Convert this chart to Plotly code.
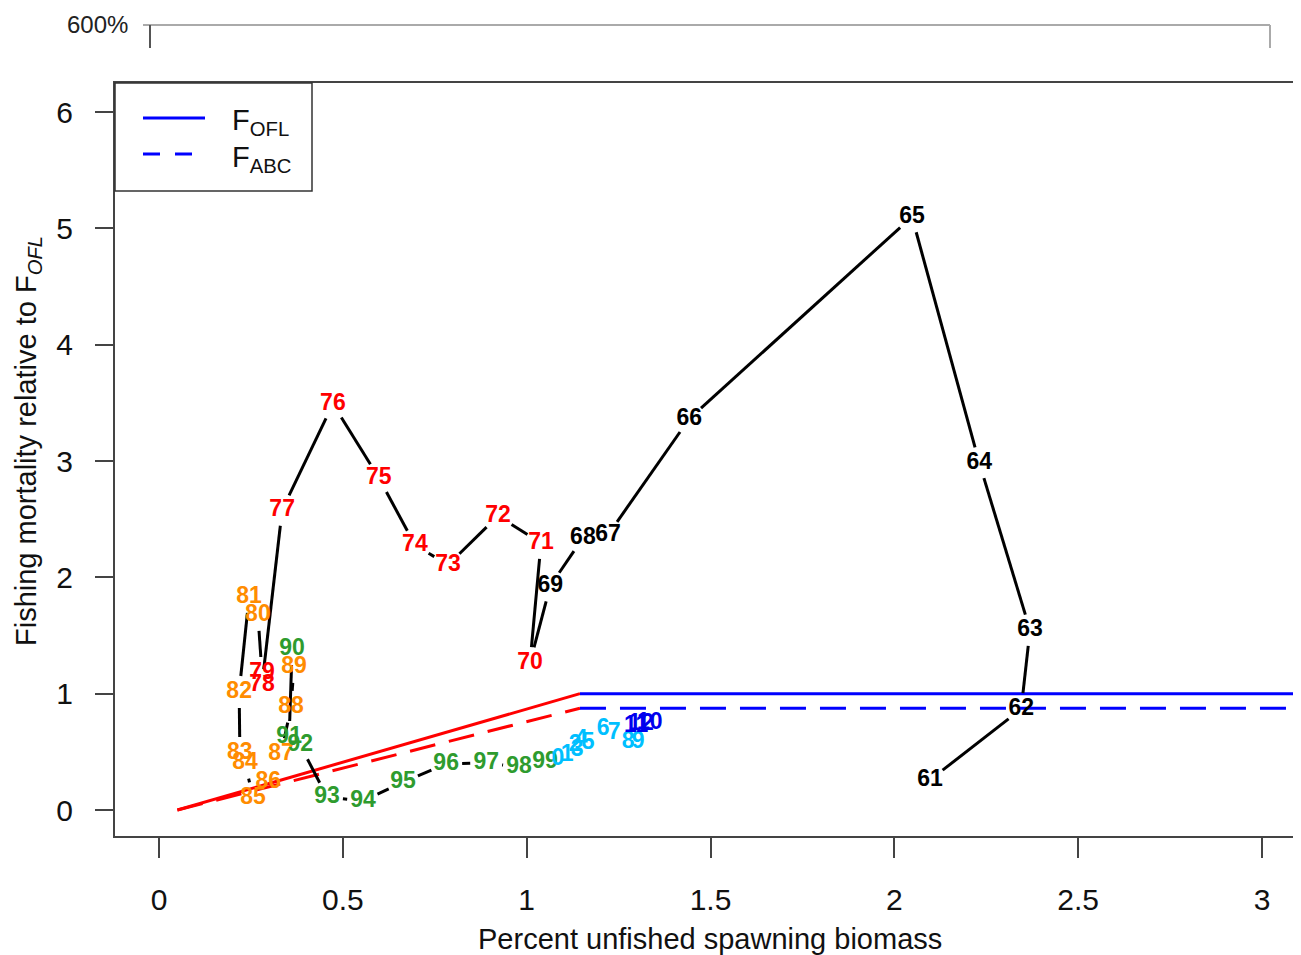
import plotly.graph_objects as go
import math

# ---------------- data ----------------
years = ["61","62","63","64","65","66","67","68","69",
         "70","71","72","73","74","75","76","77","78","79",
         "80","81","82","83","84","85","86","87","88","89",
         "90","91","92","93","94","95","96","97","98","99",
         "0","1","2","3","4","5","6","7","8","9",
         "11","12","10"]
biomass = [2.097,2.345,2.369,2.231,2.048,1.442,1.221,1.153,1.064,
           1.009,1.039,0.922,0.786,0.696,0.598,0.473,0.335,0.280,0.280,
           0.269,0.245,0.218,0.220,0.234,0.256,0.297,0.332,0.359,0.367,
           0.362,0.354,0.384,0.457,0.555,0.664,0.781,0.890,0.979,1.050,
           1.085,1.110,1.132,1.137,1.148,1.167,1.208,1.238,1.276,1.303,
           1.298,1.311,1.335]
fmort = [0.258,0.868,1.548,2.984,5.099,3.362,2.365,2.339,1.926,
         1.264,2.296,2.528,2.107,2.279,2.855,3.491,2.580,1.075,1.178,
         1.677,1.831,1.015,0.490,0.404,0.103,0.241,0.482,0.886,1.230,
         1.384,0.628,0.559,0.112,0.077,0.241,0.396,0.404,0.370,0.413,
         0.439,0.473,0.559,0.516,0.602,0.576,0.697,0.662,0.585,0.585,
         0.722,0.739,0.748]
decade_colors = ["#000000","#FF0000","#FF8C00","#2E9B2E","#00BFFF","#0000EE"]
decade_of = [0]*9 + [1]*10 + [2]*10 + [3]*10 + [4]*10 + [5]*3

# harvest control rule
hcr_x = [0.05, 1.145, 3.2]
fofl_y = [0.0, 1.0, 1.0]
fabc_y = [0.0, 0.875, 0.875]

x_ticks = [0, 0.5, 1, 1.5, 2, 2.5, 3]
x_ticklabels = ["0", "0.5", "1", "1.5", "2", "2.5", "3"]
y_ticks = [0, 1, 2, 3, 4, 5, 6]
legend_labels = ["F<sub>OFL</sub>", "F<sub>ABC</sub>"]

# ---------------- layout geometry (page offset of 8px body margin) ----------------
OFF = 8
W, H = 1301, 955 - OFF
PL, PT, PB = 115, 83, 836          # plot box in page pixels
PR = W + OFF                        # plot right edge in page pixels (beyond the window)
ML, MT = PL - OFF, PT - OFF
MB = H - (PB - OFF)
MR = 0
X0PX, XUNIT = 159.0, 367.67         # page px of x=0, px per unit
Y0PX, YUNIT = 810.0, 116.33
xr = [(PL - X0PX) / XUNIT, (PR - X0PX) / XUNIT]
yr = [(Y0PX - PB) / YUNIT, (Y0PX - PT) / YUNIT]
pw, ph = W - ML - MR, H - MT - MB
kx = pw / (xr[1] - xr[0])
ky = ph / (yr[1] - yr[0])

# black path with gaps around the labels (like R type="c")
gap = 16.0
seg_x, seg_y = [], []
for i in range(len(biomass) - 1):
    x1, y1, x2, y2 = biomass[i], fmort[i], biomass[i+1], fmort[i+1]
    dxp, dyp = (x2 - x1) * kx, (y2 - y1) * ky
    L = math.hypot(dxp, dyp)
    if L <= 2 * gap:
        continue
    f = gap / L
    seg_x += [x1 + (x2 - x1) * f, x2 - (x2 - x1) * f, None]
    seg_y += [y1 + (y2 - y1) * f, y2 - (y2 - y1) * f, None]

DASH = "26px,14px"
fig = go.Figure()

fig.add_trace(go.Scatter(x=hcr_x[:2], y=fofl_y[:2], mode="lines",
                         line=dict(color="#FF0000", width=3), showlegend=False, hoverinfo="skip"))
fig.add_trace(go.Scatter(x=hcr_x[:2], y=fabc_y[:2], mode="lines",
                         line=dict(color="#FF0000", width=3, dash=DASH), showlegend=False, hoverinfo="skip"))
fig.add_trace(go.Scatter(x=hcr_x[1:], y=fofl_y[1:], mode="lines", name="F OFL",
                         line=dict(color="#0000FF", width=3), showlegend=False))
fig.add_trace(go.Scatter(x=hcr_x[1:], y=fabc_y[1:], mode="lines", name="F ABC",
                         line=dict(color="#0000FF", width=3, dash=DASH), showlegend=False))

fig.add_trace(go.Scatter(x=seg_x, y=seg_y, mode="lines", line=dict(color="#000000", width=3),
                         showlegend=False, hoverinfo="skip"))

for d, col in enumerate(decade_colors):
    idx = [i for i in range(len(years)) if decade_of[i] == d]
    fig.add_trace(go.Scatter(
        x=[biomass[i] for i in idx], y=[fmort[i] for i in idx],
        text=[years[i] for i in idx], mode="text",
        textfont=dict(color=col, size=23, family="Liberation Sans", weight="bold"),
        textposition="middle center", showlegend=False))

def pp(px, py):
    """page pixel -> paper coords"""
    return (px - PL) / pw, (PB - py) / ph

def hline(shapes, x0, x1, y, color, width, dash=None, layer="above"):
    a = pp(x0, y); b = pp(x1, y)
    ln = dict(color=color, width=width)
    if dash:
        ln["dash"] = dash
    shapes.append(dict(type="line", xref="paper", yref="paper", x0=a[0], y0=a[1], x1=b[0], y1=b[1],
                       line=ln, layer=layer))

def vline(shapes, x, y0, y1, color, width):
    a = pp(x, y0); b = pp(x, y1)
    shapes.append(dict(type="line", xref="paper", yref="paper", x0=a[0], y0=a[1], x1=b[0], y1=b[1],
                       line=dict(color=color, width=width)))

shapes = []
# fragment of the panel above (clipped)
hline(shapes, 143, 1270, 25, "#AAAAAA", 2)
vline(shapes, 150, 25, 48, "#555555", 2)
vline(shapes, 1270, 25, 48, "#AAAAAA", 2)

# legend box
a = pp(115, 83); b = pp(312, 191)
shapes.append(dict(type="rect", xref="paper", yref="paper", x0=a[0], y0=a[1], x1=b[0], y1=b[1],
                   line=dict(color="#333333", width=1.5), fillcolor="white", layer="above"))
hline(shapes, 143, 205, 118, "#0000FF", 3)
hline(shapes, 143, 195, 154, "#0000FF", 3, dash="17px,15px")

annotations = []
def ann(text, px, py, size, angle=0, xanchor="center", color="#111111"):
    p = pp(px, py)
    annotations.append(dict(text=text, xref="paper", yref="paper", x=p[0], y=p[1], showarrow=False,
                            xanchor=xanchor, yanchor="middle", textangle=angle,
                            font=dict(size=size, family="Liberation Sans", color=color)))

ann("600%", 97, 24, 24, color="#222222")
ann("Percent unfished spawning biomass", 710, 939, 29)
ann("Fishing mortality relative to F<sub><i>OFL</i></sub>", 28, 441, 29, angle=-90)
ann(legend_labels[0], 230, 122, 29, xanchor="left")
ann(legend_labels[1], 230, 159, 29, xanchor="left")

fig.update_layout(
    width=W, height=H, margin=dict(l=ML, r=MR, t=MT, b=MB),
    plot_bgcolor="white", paper_bgcolor="white",
    shapes=shapes, annotations=annotations, showlegend=False,
    xaxis=dict(range=xr, tickvals=x_ticks, ticktext=x_ticklabels, showgrid=False, zeroline=False,
               showline=True, mirror=True, linecolor="#444444", linewidth=2,
               ticks="outside", ticklen=20, tickwidth=1.5, tickcolor="#444444",
               ticklabelstandoff=16,
               tickfont=dict(size=30, family="Liberation Sans", color="#111111")),
    yaxis=dict(range=yr, tickvals=y_ticks, showgrid=False, zeroline=False,
               showline=True, linecolor="#444444", linewidth=2,
               ticks="outside", ticklen=18, tickwidth=1.5, tickcolor="#444444",
               ticklabelstandoff=16,
               tickfont=dict(size=30, family="Liberation Sans", color="#111111")),
)

fig.write_html("out.html")
